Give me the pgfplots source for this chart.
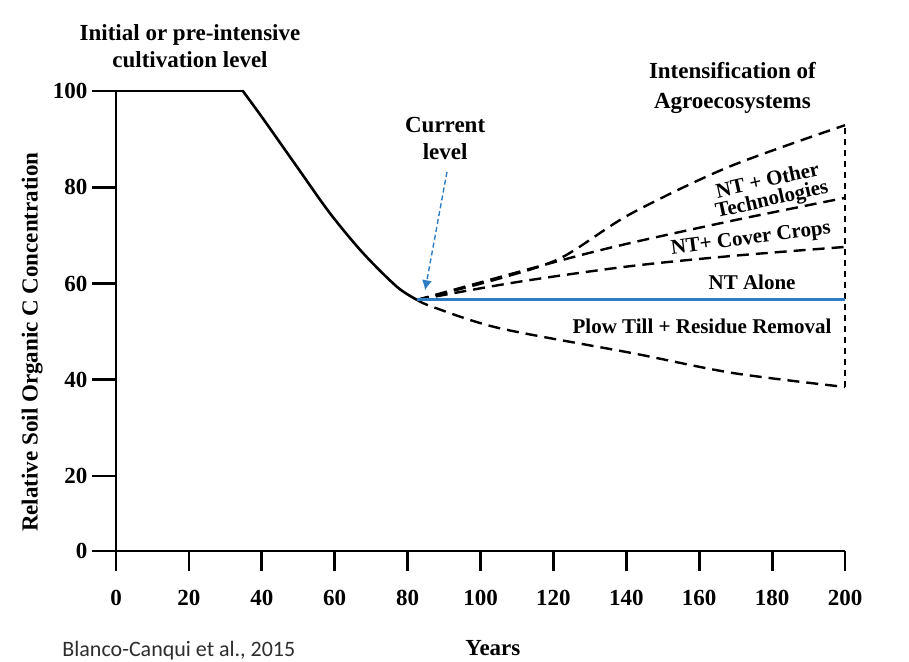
\documentclass[border=0pt]{standalone}
\usepackage{fontspec}
\setmainfont{Liberation Serif}
\newfontfamily\carlito{Carlito}
\usepackage{pgfplots}
\pgfplotsset{compat=1.18}
\usetikzlibrary{arrows.meta}
\definecolor{curblue}{RGB}{46,125,196}
\definecolor{srcgray}{RGB}{45,45,45}
\tikzset{
  lbl/.style={font=\fontsize{11.5}{13.5}\selectfont\bfseries, align=center},
  sm/.style={font=\fontsize{10.5}{9.5}\selectfont\bfseries, align=center, inner sep=0.3pt},
  fan/.style={black, line width=1.2pt, dash pattern=on 6pt off 3.5pt, smooth},
}

\begin{document}
\begin{tikzpicture}[x=1pt,y=1pt]
\path[use as bounding box] (0,0) rectangle (454.5,330.5);
\begin{axis}[
  at={(58pt,55pt)}, anchor=south west,
  scale only axis, width=364.5pt, height=230pt,
  xmin=0, xmax=200, ymin=4.42, ymax=100,
  clip=false,
  axis x line*=bottom, axis y line*=left,
  axis line style={line width=1.4pt, -},
  xtick={0,20,40,60,80,100,120,140,160,180,200},
  xticklabels={0,20,40,60,80,100,120,140,160,180,200},
  ytick={4.42,20,40,60,80,100},
  yticklabels={0,20,40,60,80,100},
  tick align=outside,
  xtick style={line width=1.4pt, black, /pgfplots/major tick length=10pt},
  ytick style={line width=1.4pt, black, /pgfplots/major tick length=12pt},
  tick label style={font=\fontsize{11.5}{13}\selectfont\bfseries},
  xticklabel style={yshift=-12pt},
  yticklabel style={xshift=-6.5pt},
  xlabel={Years},
  xlabel style={at={(axis description cs:0.517,-0.211)}, anchor=center,
    font=\fontsize{11.5}{13}\selectfont\bfseries},
  ylabel={Relative Soil Organic C Concentration},
  ylabel style={at={(axis description cs:-0.115,0.454)}, anchor=center,
    font=\fontsize{11.5}{13}\selectfont\bfseries},
]

% pre-intensive level and decline
\addplot[black, line width=1.3pt, line cap=round] coordinates {(0,100) (34.8,100)};
\addplot[black, line width=1.3pt, smooth, line cap=round] coordinates {
(34.8,100) (40.3,94.3) (49.7,84.2) (58.7,74.6) (67.8,66.3) (77.1,59.3) (82.6,56.6)};

% scenarios
\addplot[fan] coordinates {(82.6,56.6) (105,61.0) (122,65.3) (141,74.4) (168,84.2) (200,92.9)};
\addplot[fan] coordinates {(82.6,56.6) (122,64.8) (141,68.4) (170,73.2) (200,77.8)};
\addplot[fan] coordinates {(82.6,56.6) (110,60.3) (141,63.6) (170,65.8) (200,67.6)};
\addplot[fan] coordinates {(82.6,56.6) (87,55.1) (105.3,50.7) (141.9,45.5) (169.3,41.4) (200,38.5)};
\addplot[black, line width=1pt, dash pattern=on 3pt off 2.5pt] coordinates {(200,38.5) (200,92.9)};

% NT alone
\addplot[curblue, line width=1.4pt] coordinates {(82.6,56.6) (200,56.6)};

\node[lbl] at (axis cs:20.3,109.4) {Initial or pre-intensive\\cultivation level};
\node[lbl] at (axis cs:90.3,90.2) {Current\\level};
\node[lbl, font=\fontsize{11.5}{15}\selectfont\bfseries] at (axis cs:169.1,100.6) {Intensification of\\Agroecosystems};
\node[sm, rotate=12.5, font=\fontsize{10.5}{9.5}\selectfont\bfseries] at (axis cs:179.4,79.2) {NT + Other\\Technologies};
\node[sm, rotate=7.5] at (axis cs:174.2,69.2) {NT+ Cover Crops};
\node[sm] at (axis cs:174.5,60.3) {NT Alone};
\node[sm] at (axis cs:160.8,51.0) {Plow Till + Residue Removal};
\node[anchor=base west, inner sep=0, text=srcgray, font=\carlito\fontsize{11}{13}\selectfont]
  at (axis cs:-14.8,-17.5) {Blanco-Canqui et al., 2015};
\draw[curblue, line width=0.7pt, dash pattern=on 2.5pt off 1.5pt, -{Latex[length=5pt,width=5pt]}]
  (axis cs:90.8,83.2) -- (axis cs:84.8,58.6);
\end{axis}
\end{tikzpicture}
\end{document}
